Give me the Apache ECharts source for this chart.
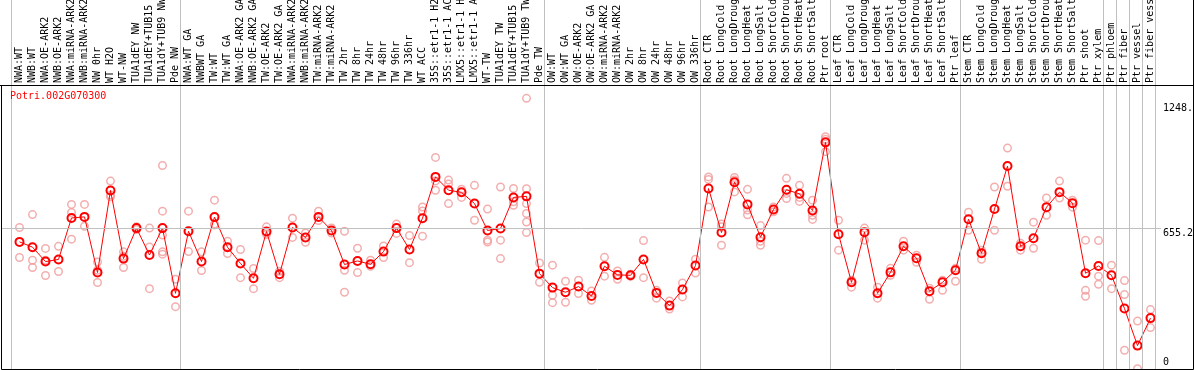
<!DOCTYPE html>
<html><head><meta charset="utf-8">
<script src="https://cdn.jsdelivr.net/npm/echarts@6/dist/echarts.min.js"></script>
<style>html,body{margin:0;padding:0;background:#fff}#c{width:1194px;height:370px}</style>
</head><body><div id="c"></div>
<script>
const categories = [
'NWA:WT','NWB:WT','NWA:OE-ARK2','NWB:OE-ARK2','NWA:miRNA-ARK2','NWB:miRNA-ARK2','NW 0hr','WT H2O','WT-NW','TUA1dEY NW',
'TUA1dEY+TUB15','TUA1dY+TUB9 NW','Pde NW','NWA:WT GA','NWBWT GA','TW:WT','TW:WT GA','NWA:OE-ARK2 GA','NWB:OE-ARK2 GA','TW:OE-ARK2',
'TW:OE-ARK2 GA','NWA:miRNA-ARK2','NWB:miRNA-ARK2','TW:miRNA-ARK2','TW:miRNA-ARK2','TW 2hr','TW 8hr','TW 24hr','TW 48hr','TW 96hr',
'TW 336hr','WT ACC','35S::etr1-1 H2O','35S::etr1-1 ACC','LMX5::etr1-1 H2O','LMX5::etr1-1 ACC','WT-TW','TUA1dEY TW','TUA1dEY+TUB15','TUA1dY+TUB9 TW',
'Pde TW','OW:WT','OW:WT GA','OW:OE-ARK2','OW:OE-ARK2 GA','OW:miRNA-ARK2','OW:miRNA-ARK2','OW 2hr','OW 8hr','OW 24hr',
'OW 48hr','OW 96hr','OW 336hr','Root CTR','Root LongCold','Root LongDrought','Root LongHeat','Root LongSalt','Root ShortCold','Root ShortDrought',
'Root ShortHeat','Root ShortSalt','Ptr root','Leaf CTR','Leaf LongCold','Leaf LongDrought','Leaf LongHeat','Leaf LongSalt','Leaf ShortCold','Leaf ShortDrought',
'Leaf ShortHeat','Leaf ShortSalt','Ptr leaf','Stem CTR','Stem LongCold','Stem LongDrought','Stem LongHeat','Stem LongSalt','Stem ShortCold','Stem ShortDrought',
'Stem ShortHeat','Stem ShortSalt','Ptr shoot','Ptr xylem','Ptr phloem','Ptr fiber','Ptr vessel','Ptr fiber vessel'
];
const means = [
592, 567, 499, 509, 705, 710, 447, 835, 513, 657,
530, 657, 349, 642, 499, 709, 567, 490, 420, 641,
439, 660, 613, 710, 646, 485, 502, 486, 546, 657,
556, 704, 899, 836, 826, 773, 646, 655, 802, 807,
442, 376, 354, 381, 336, 477, 436, 434, 509, 351,
291, 367, 480, 844, 636, 874, 769, 614, 745, 838,
819, 740, 1062, 628, 401, 638, 349, 448, 571, 515,
359, 401, 458, 699, 538, 747, 950, 571, 609, 756,
827, 775, 444, 478, 434, 277, 102, 232
];
const replicates = [
[660,518],[721,505,471],[561,505,433],[571,452],[769,731,605],[769,666],[497,458,400],[879,813,805],[545,471,524],[650,663],
[657,568,371],[953,737,624,545,534],[415,286],[737,546,642],[545,457],[789,676,672],[595,537],[556,423],[466,371],[663,628],
[453,423],[704,613],[634,590],[737,693],[658,634],[642,458,354],[562,447],[505,477],[573,518],[676,632],
[622,494],[757,738,619],[991,880,836],[884,865,773],[841,802],[859,694],[747,600,591],[851,600,513],[844,781,765],[1270,843,773,726,686,636],
[492,401],[482,340,305],[406,307],[411,348],[360,316],[519,430],[455,415],[439,429],[598,423],[363,326],
[313,275],[398,332],[510,445],[899,887,757],[676,663,576],[896,884,828],[840,742,720],[669,595,576],[757,734],[892,821,797],
[859,802,783],[789,718,698],[1089,1018,1077],[694,553],[411,378],[657,600],[378,326],[467,434],[595,553],[529,496],
[373,321],[411,363],[467,406],[732,647],[553,510],[851,647],[1035,855],[586,553],[685,562],[799,718],
[879,799],[789,756],[600,363,335],[598,430,392],[482,371],[409,343,80],[218,-7],[272,187]
];
const separatorsAfter = [-1, 12, 40, 52, 62, 72, 83, 84, 85, 86, 87];
const yTickValues = [655.2, 1248];
const yTickLabels = ['655.2', '1248.'];
const yZeroValues = [0];
const yZeroLabels = ['0'];
const gridLineValue = 655.2;
const titleText = 'Potri.002G070300';

const FONT = 'DejaVu Sans Mono';
const X_MIN = (2 - 19.5) / 13, X_MAX = (1161 - 19.5) / 13;
const K = 0.21171, Y0 = 367.21;
const Y_MAX = Y0 / K, Y_MIN = (Y0 - 369) / K;

const meanData = means.map((v, i) => [i, v]);
const repData = [];
replicates.forEach((arr, i) => arr.forEach(v => repData.push([i, v])));

const chart = echarts.init(document.getElementById('c'), null, {renderer: 'canvas'});
const yBase = {
  type: 'value', position: 'right', min: Y_MIN, max: Y_MAX,
  axisLine: {show: false}, axisTick: {show: false}, splitLine: {show: false}
};
chart.setOption({
  animation: false,
  backgroundColor: '#fff',
  title: {text: titleText, left: 10, top: 91, padding: 0,
    textStyle: {color: '#ff0000', fontFamily: FONT, fontSize: 10, fontWeight: 'normal'}},
  grid: {left: 2, right: 33, top: 0, bottom: 1, containLabel: false, outerBoundsMode: 'none'},
  xAxis: {
    type: 'value', position: 'top', offset: -85, min: X_MIN, max: X_MAX,
    axisLine: {show: false}, axisTick: {show: false}, splitLine: {show: false},
    axisLabel: {
      customValues: categories.map((_, i) => i),
      formatter: v => categories[Math.round(v)] || '',
      rotate: 90, margin: 2, fontFamily: FONT, fontSize: 10, color: '#000'
    }
  },
  yAxis: [
    Object.assign({}, yBase, {axisLabel: {customValues: yTickValues,
      formatter: v => yTickLabels[yTickValues.indexOf(v)] ?? '',
      verticalAlign: 'top', margin: 2, fontFamily: FONT, fontSize: 10, color: '#000'}}),
    Object.assign({}, yBase, {axisLabel: {customValues: yZeroValues,
      formatter: v => yZeroLabels[yZeroValues.indexOf(v)] ?? '',
      verticalAlign: 'bottom', margin: 2, fontFamily: FONT, fontSize: 10, color: '#000'}})
  ],
  graphic: [
    {type: 'rect', silent: true, z: 100, shape: {x: 1.5, y: 85.5, width: 1192, height: 284},
      style: {fill: null, stroke: '#000', lineWidth: 1}},
    {type: 'line', silent: true, z: 100, shape: {x1: 0, y1: 85.5, x2: 1193.5, y2: 85.5},
      style: {stroke: '#000', lineWidth: 1}},
    {type: 'line', silent: true, z: 100, shape: {x1: 1193.5, y1: 0, x2: 1193.5, y2: 86},
      style: {stroke: '#000', lineWidth: 1}}
  ],
  series: [
    {
      type: 'scatter', data: repData, symbol: 'circle', symbolSize: 7.5, silent: true, z: 2,
      itemStyle: {color: 'rgba(0,0,0,0)', borderColor: '#f09a9a', borderWidth: 1.5},
      markLine: {
        silent: true, symbol: 'none', label: {show: false}, animation: false,
        lineStyle: {color: '#c0c0c0', width: 1, type: 'solid'},
        data: separatorsAfter.map(s => ({xAxis: s + 5 / 13})).concat([{yAxis: gridLineValue}])
      }
    },
    {
      type: 'line', data: meanData, symbol: 'circle', symbolSize: 8, showSymbol: true, silent: true, z: 3,
      lineStyle: {color: '#ff0000', width: 1},
      itemStyle: {color: 'rgba(0,0,0,0)', borderColor: '#ff0000', borderWidth: 2}
    }
  ]
});
</script></body></html>
